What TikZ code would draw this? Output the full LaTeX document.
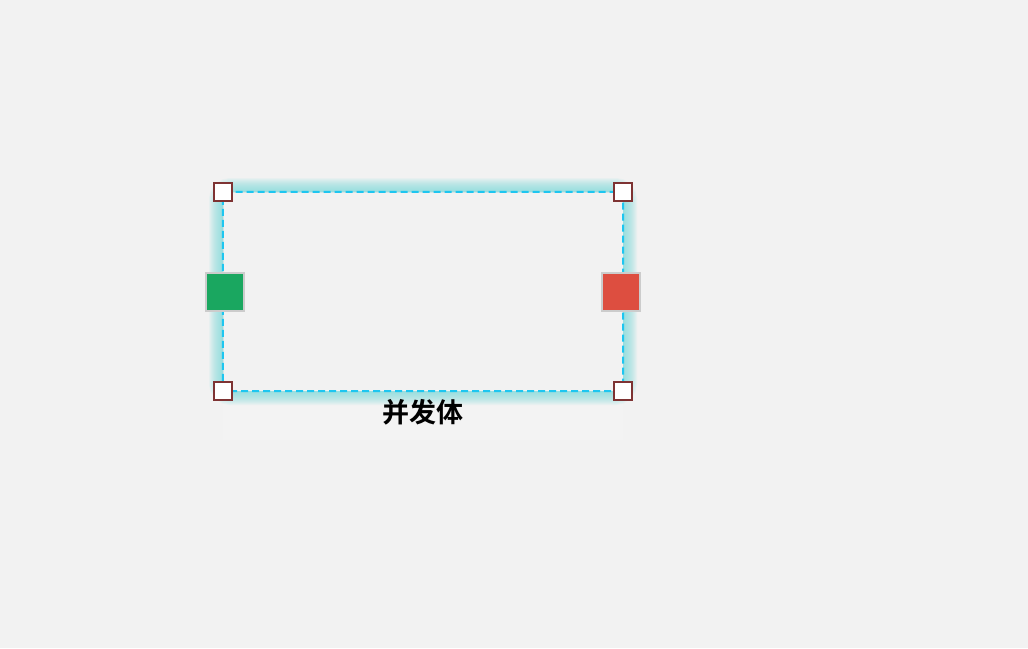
\documentclass[tikz,border=0pt]{standalone}
\usepackage{fontspec}
\newfontfamily\cjk{Noto Sans CJK SC}[BoldFont={Noto Sans CJK SC Bold}]
\definecolor{bg}{HTML}{F2F2F2}
\definecolor{dashc}{HTML}{1EC6F0}
\definecolor{glowc}{HTML}{7FDCDC}
\definecolor{handleb}{HTML}{7E3333}
\definecolor{portg}{HTML}{1AA760}
\definecolor{portr}{HTML}{DD4E40}
\definecolor{portb}{HTML}{CCCCCC}
\tikzset{
  handle/.style={draw=handleb, line width=2pt, fill=white, minimum size=18pt, inner sep=0pt, outer sep=0pt},
  port/.style={draw=portb, line width=2pt, minimum size=38pt, inner sep=0pt, outer sep=0pt},
  frame/.style={draw=dashc, line width=2pt, dash pattern=on 7pt off 4pt, rounded corners=6pt},
}
\begin{document}
\begin{tikzpicture}[x=1pt,y=-1pt]
\fill[bg] (0,0) rectangle (1028,648);
\useasboundingbox (0,0) rectangle (1028,648);
% faint label area
\fill[white, opacity=0.1] (223,391) rectangle (623,440);
% glow
\begin{scope}[even odd rule]
\clip (0,0) rectangle (1028,648) (223,192) rectangle (623,391);
\foreach \w in {2,4,...,28} {
  \draw[glowc, line width=\w pt, opacity=0.085, rounded corners=8pt] (223,192) rectangle (623,391);
}
\end{scope}
\node[minimum width=400pt, minimum height=199pt, inner sep=0pt] (body) at (423,291.5) {};
\draw[frame] (body.north west) rectangle (body.south east);
\node[handle] (hnw) at (body.north west) {};
\node[handle] (hne) at (body.north east) {};
\node[handle] (hsw) at (body.south west) {};
\node[handle] (hse) at (body.south east) {};
\node[port, fill=portg] (pin) at (225,292) {};
\node[port, fill=portr] (pout) at (621,292) {};
\node[font=\cjk\bfseries\fontsize{27}{30}\selectfont, inner sep=0pt] (label) at (423,412) {并发体};
\end{tikzpicture}
\end{document}
